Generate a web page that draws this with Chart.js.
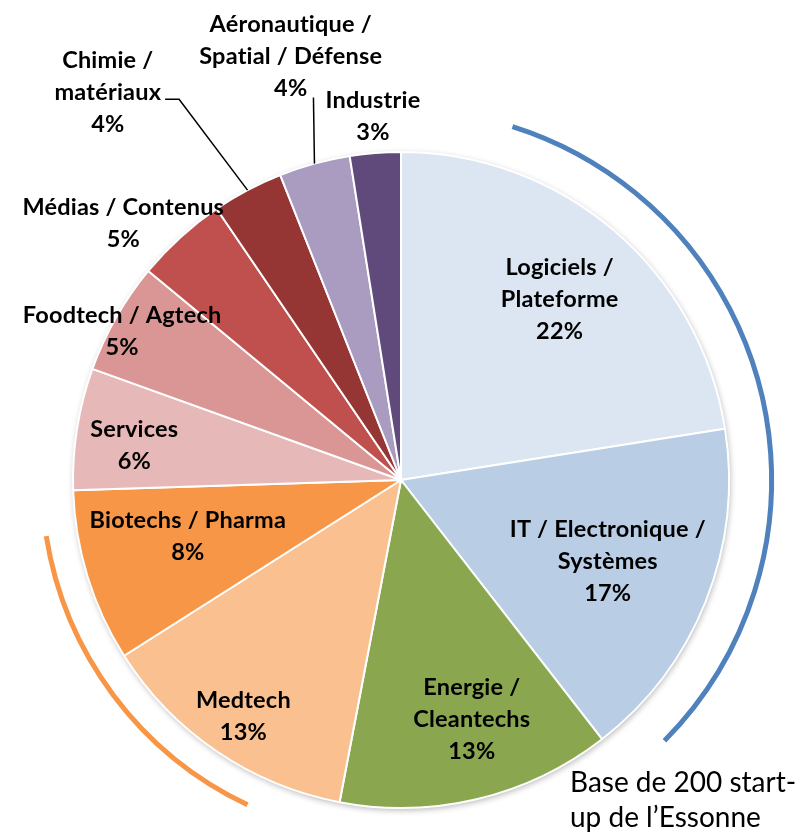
<!DOCTYPE html>
<html><head><meta charset="utf-8">
<script src="https://cdn.jsdelivr.net/npm/chart.js@4/dist/chart.umd.min.js"></script>
<style>html,body{margin:0;padding:0;background:#fff;overflow:hidden}</style>
</head><body>
<canvas id="c" width="806" height="832"></canvas>
<script>
// ---- data ----
const categories = [
  ['Logiciels /', 'Plateforme'],
  ['IT / Electronique /', 'Systèmes'],
  ['Energie /', 'Cleantechs'],
  ['Medtech'],
  ['Biotechs / Pharma'],
  ['Services'],
  ['Foodtech / Agtech'],
  ['Médias / Contenus'],
  ['Chimie /', 'matériaux'],
  ['Aéronautique /', 'Spatial / Défense'],
  ['Industrie']
];
const startupCounts = [45, 34, 27, 26, 17, 12, 11, 9, 7, 7, 5];
const pctLabels = ['22%', '17%', '13%', '13%', '8%', '6%', '5%', '5%', '4%', '4%', '3%'];
const footnoteLines = ['Base de 200 start-', 'up de l\u2019Essonne'];

// ---- style / layout ----
const sliceColors = ['#DCE6F2', '#B9CDE5', '#8AA64E', '#FAC090', '#F79646', '#E6B9B8',
                     '#D99694', '#C0504D', '#963634', '#AA9BC0', '#604A7B'];
// label anchor: angle (degrees clockwise from top) and radius factor
const labelLayout = [
  {deg: 41.3, f: 0.733}, {deg: 111.6, f: 0.678}, {deg: 163.5, f: 0.76}, {deg: 213.7, f: 0.866},
  {deg: 255.3, f: 0.672}, {deg: 277.4, f: 0.82}, {deg: 298, f: 0.963}, {deg: 312.7, f: 1.152},
  {deg: 322.9, f: 1.482, leader: 'elbow'}, {deg: 345.4, f: 1.334, leader: 'vertical'}, {deg: 355.6, f: 1.112}
];
const FONT = 'Lato, "Open Sans", sans-serif';
const LINE_H = 32;

const toRad = d => (d - 90) * Math.PI / 180;

const deco = {
  id: 'deco',
  beforeDatasetsDraw(chart) {
    const a = chart.getDatasetMeta(0).data[0];
    const ctx = chart.ctx;
    ctx.save();
    ctx.shadowColor = 'rgba(0,0,0,0.30)';
    ctx.shadowBlur = 6; ctx.shadowOffsetX = 1; ctx.shadowOffsetY = 2;
    ctx.beginPath(); ctx.arc(a.x, a.y, a.outerRadius, 0, Math.PI * 2);
    ctx.fillStyle = '#fff'; ctx.fill();
    ctx.restore();
  },
  afterDatasetsDraw(chart) {
    const meta = chart.getDatasetMeta(0);
    const a0 = meta.data[0];
    const cx = a0.x, cy = a0.y, R = a0.outerRadius;
    const ctx = chart.ctx;
    ctx.save();
    // decorative arcs
    ctx.lineWidth = 5; ctx.lineCap = 'butt';
    ctx.strokeStyle = '#4F81BD';
    ctx.beginPath(); ctx.arc(cx, cy, R * 1.13, toRad(17.5), toRad(134.7)); ctx.stroke();
    ctx.strokeStyle = '#F79646';
    ctx.beginPath(); ctx.arc(cx, cy, R * 1.095, toRad(205.3), toRad(261)); ctx.stroke();

    // labels
    ctx.fillStyle = '#000';
    ctx.font = 'bold 23.5px ' + FONT;
    if ('letterSpacing' in ctx) ctx.letterSpacing = '0.2px';
    ctx.textAlign = 'center'; ctx.textBaseline = 'middle';
    meta.data.forEach((arc, i) => {
      const L = labelLayout[i];
      const ang = toRad(L.deg);
      const px = cx + Math.cos(ang) * R * L.f;
      const py = cy + Math.sin(ang) * R * L.f;
      const lines = categories[i].concat([pctLabels[i]]);
      const top = py - (lines.length - 1) * LINE_H / 2;
      lines.forEach((t, k) => ctx.fillText(t, px, top + k * LINE_H));
      if (L.leader) {
        const mid = (arc.startAngle + arc.endAngle) / 2;
        const ex = cx + Math.cos(mid) * R, ey = cy + Math.sin(mid) * R;
        ctx.strokeStyle = '#000'; ctx.lineWidth = 1.5;
        ctx.beginPath();
        if (L.leader === 'elbow') {
          const w = ctx.measureText(categories[i][1]).width;
          const sx = px + w / 2 + 4, sy = top + LINE_H + 7;
          ctx.moveTo(sx, sy); ctx.lineTo(sx + 14, sy); ctx.lineTo(ex, ey);
        } else {
          const sy = top + (lines.length - 1) * LINE_H + 9;
          ctx.moveTo(ex - 1, sy); ctx.lineTo(ex, ey);
        }
        ctx.stroke();
      }
    });

    // footnote
    ctx.font = '28px ' + FONT;
    if ('letterSpacing' in ctx) ctx.letterSpacing = '0px';
    ctx.textAlign = 'left';
    footnoteLines.forEach((t, k) => ctx.fillText(t, 570, 783 + k * 35));
    ctx.restore();
  }
};

new Chart(document.getElementById('c'), {
  type: 'pie',
  data: {
    labels: categories.map(l => l.join(' ')),
    datasets: [{
      data: startupCounts,
      backgroundColor: sliceColors,
      borderColor: '#ffffff',
      borderWidth: 2
    }]
  },
  options: {
    responsive: false,
    animation: false,
    layout: {padding: {top: 151, left: 72, right: 76, bottom: 23}},
    plugins: {legend: {display: false}, tooltip: {enabled: false}}
  },
  plugins: [deco]
});
</script>
</body></html>
